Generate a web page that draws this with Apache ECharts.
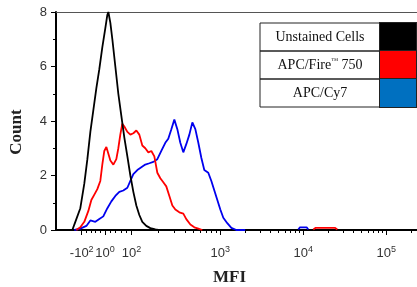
<!DOCTYPE html>
<html><head><meta charset="utf-8">
<script src="https://cdn.jsdelivr.net/npm/echarts@6/dist/echarts.min.js"></script>
<style>html,body{margin:0;padding:0;background:#fff}#c{width:417px;height:287px}</style>
</head><body><div id="c"></div>
<script>
// Series names and colours
const seriesNames = ['Unstained Cells', 'APC/Fire\u2122 750', 'APC/Cy7'];
const lineColors = ['#000000', '#ff0000', '#0000ee'];
const swatchColors = ['#000000', '#ff0000', '#0070c0'];

// x = position on the biexponential MFI display scale (in decades: 3 = 10^3), y = Count
const unstainedX = [1.217,1.253,1.313,1.361,1.398,1.434,1.470,1.506,1.542,1.578,1.614,1.639,1.651,1.675,1.699,1.735,1.771,1.807,1.843,1.880,1.916,1.952,1.988,2.024,2.060,2.108,2.157,2.217,2.253];
const unstainedY = [0,0.3,0.8,1.7,2.6,3.6,4.4,5.2,5.9,6.7,7.4,7.9,8.0,7.6,7.0,6.0,5.0,4.2,3.4,2.7,2.0,1.4,0.9,0.55,0.3,0.15,0.07,0.02,0];

const fireX = [1.265,1.313,1.361,1.410,1.446,1.482,1.518,1.554,1.578,1.602,1.627,1.651,1.675,1.711,1.747,1.771,1.795,1.819,1.843,1.880,1.916,1.952,1.988,2.024,2.060,2.096,2.133,2.169,2.205,2.241,2.277,2.313,2.349,2.386,2.422,2.458,2.506,2.554,2.590,2.639,2.687,2.735,2.783, 3.5, 4.12,4.15,4.38,4.41];
const fireY = [0,0.1,0.3,0.7,1.1,1.3,1.5,1.8,2.4,2.9,3.05,2.8,2.55,2.4,2.6,3.0,3.5,3.9,3.8,3.6,3.5,3.55,3.65,3.5,3.1,3.0,2.85,2.9,2.7,2.1,1.9,1.75,1.6,1.25,0.9,0.75,0.65,0.6,0.4,0.2,0.1,0.05,0, null, 0.02,0.08,0.08,0.02];

const cy7X = [1.241,1.313,1.386,1.434,1.494,1.542,1.590,1.639,1.687,1.735,1.783,1.831,1.880,1.916,1.952,2.000,2.048,2.096,2.145,2.193,2.241,2.289,2.337,2.373,2.410,2.446,2.482,2.518,2.554,2.590,2.627,2.663,2.699,2.735,2.771,2.807,2.855,2.892,2.928,2.964,3.000,3.036,3.084,3.133,3.193,3.30, 3.6, 3.94,3.96,4.04,4.06];
const cy7Y = [0,0.05,0.15,0.35,0.3,0.4,0.5,0.8,1.05,1.25,1.4,1.45,1.55,1.8,2.05,2.2,2.3,2.4,2.45,2.5,2.6,2.9,3.2,3.35,3.7,4.05,3.7,3.2,2.85,3.15,3.5,3.95,3.7,3.2,2.65,2.2,2.1,1.8,1.45,1.1,0.75,0.45,0.25,0.08,0,0, null, 0.02,0.1,0.1,0.02];

// Axis ticks
const yMin = 0, yMax = 8, yInterval = 2;
const xTickBase = ['-10', '10', '10', '10', '10', '10'];
const xTickExp = ['2', '0', '2', '3', '4', '5'];
const xTickPos = [1.33, 1.61, 1.93, 3, 4, 5];
const xMin = 1.02, xMax = 5.37;

// minor ticks of the display scale
function minorTicks() {
  const out = [];
  for (let v = -100; v <= 100; v += 20) {
    if (v === 0) continue;
    out.push(v < 0 ? xTickPos[1] + v / 100 * (xTickPos[1] - xTickPos[0]) : xTickPos[1] + v / 100 * (xTickPos[2] - xTickPos[1]));
  }
  for (let k = 2; k <= 9; k++) {
    out.push(xTickPos[2] + (xTickPos[3] - xTickPos[2]) * Math.log10(k));
    out.push(3 + Math.log10(k));
    out.push(4 + Math.log10(k));
    if (5 + Math.log10(k) < xMax) out.push(5 + Math.log10(k));
  }
  return out;
}

function pairs(xs, ys) {
  return xs.map((x, i) => [x, ys[i] === null ? '-' : ys[i]]);
}

const chart = echarts.init(document.getElementById('c'), null, { renderer: 'canvas' });
const legendRich = {
  t: { align: 'center', fontFamily: 'Liberation Serif', fontSize: 14, color: '#111', lineHeight: 28 },
  tm: { align: 'center', fontFamily: 'Liberation Serif', fontSize: 7, color: '#111', lineHeight: 28, padding: [0, 0, 8, 0] }
};
seriesNames.forEach((n, i) => {
  legendRich['s' + i] = { align: 'right', width: 36, height: 28, backgroundColor: swatchColors[i], borderColor: '#222', borderWidth: 1 };
});

const seriesOrder = [2, 1, 0];
const allData = [pairs(unstainedX, unstainedY), pairs(fireX, fireY), pairs(cy7X, cy7Y)];

chart.setOption({
  animation: false,
  backgroundColor: '#fff',
  grid: { left: 56, right: 0, top: 12, bottom: 57, containLabel: false, outerBoundsMode: 'none' },
  legend: {
    orient: 'vertical', left: 255, top: 22, itemGap: -2, padding: 0,
    itemWidth: 0, itemHeight: 28, icon: 'rect',
    itemStyle: { opacity: 0 },
    selectedMode: false,
    data: seriesNames,
    formatter: function (name) {
      const i = seriesNames.indexOf(name);
      const parts = name.split('\u2122');
      let txt = '{t|' + parts[0] + '}';
      if (parts.length > 1) txt += '{tm|\u2122}{t|' + parts[1] + '}';
      return txt + '{s' + i + '|}';
    },
    textStyle: {
      width: 156, height: 28, padding: 0,
      borderColor: '#222', borderWidth: 1,
      rich: legendRich
    }
  },
  xAxis: [{
    type: 'value', min: xMin, max: xMax, position: 'bottom',
    axisLine: { show: true, onZero: false, lineStyle: { color: '#000', width: 2 } },
    axisTick: { show: true, customValues: xTickPos, length: 5, lineStyle: { color: '#000', width: 1 } },
    axisLabel: {
      show: true, customValues: xTickPos, margin: 15,
      showMinLabel: true, showMaxLabel: true, hideOverlap: false,
      formatter: function (v) {
        let i = xTickPos.findIndex(p => Math.abs(p - v) < 1e-6);
        if (i < 0) return '';
        return '{b|' + xTickBase[i] + '}{s|' + xTickExp[i] + '}';
      },
      rich: {
        b: { fontFamily: 'Liberation Sans', fontSize: 13, lineHeight: 16, color: '#333' },
        s: { fontFamily: 'Liberation Sans', fontSize: 9, lineHeight: 9, verticalAlign: 'top', color: '#333' }
      }
    },
    splitLine: { show: false },
    name: 'MFI', nameLocation: 'middle', nameGap: 39, nameMoveOverlap: false,
    nameTextStyle: { fontFamily: 'Liberation Serif', fontSize: 17, fontWeight: 'bold', color: '#222', padding: [0, 14, 0, 0] }
  }, {
    type: 'value', min: xMin, max: xMax, position: 'bottom',
    axisLine: { show: false },
    axisTick: { show: true, customValues: minorTicks(), length: 3, lineStyle: { color: '#000', width: 1 } },
    axisLabel: { show: false },
    splitLine: { show: false }
  }, {
    type: 'value', min: xMin, max: xMax, position: 'top',
    axisLine: { show: true, lineStyle: { color: '#555', width: 1 } },
    axisTick: { show: false }, axisLabel: { show: false }, splitLine: { show: false }
  }],
  yAxis: {
    type: 'value', min: yMin, max: yMax, interval: yInterval,
    axisLine: { show: true, lineStyle: { color: '#000', width: 2 } },
    axisTick: { show: true, length: 5, lineStyle: { color: '#000' } },
    minorTick: { show: true, splitNumber: 2, length: 3, lineStyle: { color: '#000' } },
    axisLabel: { fontFamily: 'Liberation Sans', fontSize: 13, color: '#333', margin: 9 },
    splitLine: { show: false },
    name: 'Count', nameLocation: 'middle', nameGap: 31, nameMoveOverlap: false,
    nameTextStyle: { fontFamily: 'Liberation Serif', fontSize: 17, fontWeight: 'bold', color: '#222', padding: [0, 22, 0, 0] }
  },
  series: seriesOrder.map(i => ({
    name: seriesNames[i], type: 'line', xAxisIndex: 0,
    data: allData[i], showSymbol: false, symbol: 'none',
    connectNulls: false,
    color: lineColors[i],
    lineStyle: { color: lineColors[i], width: 1.8 },
    clip: true
  }))
});
</script></body></html>
